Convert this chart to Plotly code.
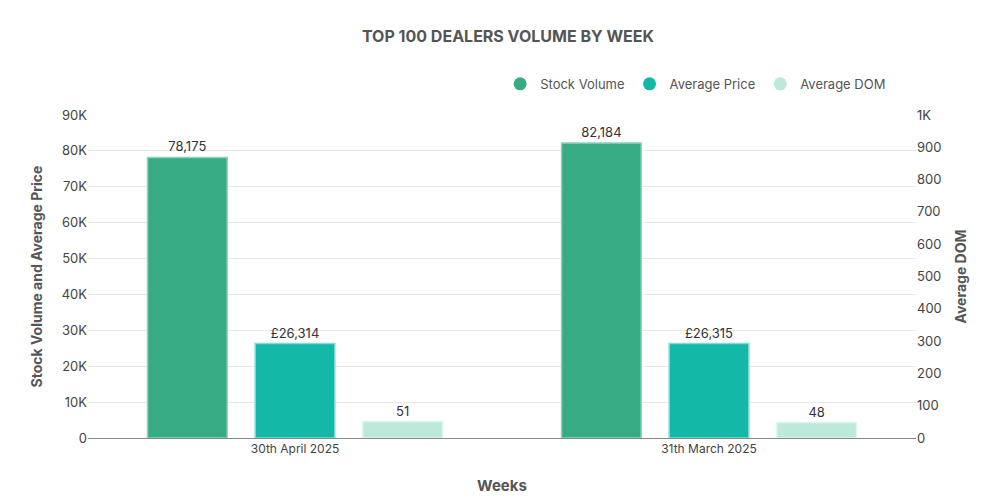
import plotly.graph_objects as go

weeks = ["30th April 2025", "31th March 2025"]
stock_volume = [78175, 82184]
average_price = [26314, 26315]
average_dom = [51, 48]
left_ticks = [0, 10000, 20000, 30000, 40000, 50000, 60000, 70000, 80000, 90000]
left_labels = ["0", "10K", "20K", "30K", "40K", "50K", "60K", "70K", "80K", "90K"]
right_ticks = [0, 100, 200, 300, 400, 500, 600, 700, 800, 900, 1000]
right_labels = ["0", "100", "200", "300", "400", "500", "600", "700", "800", "900", "1K"]

c_stock, c_price, c_dom = "#36ab84", "#14b8a6", "#bde8dc"
font = "Inter, Roboto, sans-serif"

fig = go.Figure()
fig.add_bar(x=weeks, y=stock_volume, name="Stock Volume", marker=dict(color=c_stock, line=dict(color="#8fd3bb", width=1.5)),
            text=[f"{v:,}" for v in stock_volume], textposition="outside", offsetgroup="1", showlegend=False, cliponaxis=False)
fig.add_bar(x=weeks, y=average_price, name="Average Price", marker=dict(color=c_price, line=dict(color="#7fdcd0", width=1.5)),
            text=[f"£{v:,}" for v in average_price], textposition="outside", offsetgroup="2", showlegend=False, cliponaxis=False)
fig.add_bar(x=weeks, y=average_dom, name="Average DOM", marker=dict(color=c_dom, line=dict(color="#e0f5ef", width=1.5)),
            text=[str(v) for v in average_dom], textposition="outside", offsetgroup="3", yaxis="y2", showlegend=False, cliponaxis=False)
for n, c in [("Stock Volume", c_stock), ("Average Price", c_price), ("Average DOM", c_dom)]:
    fig.add_scatter(x=[None], y=[None], mode="markers", name=n, marker=dict(color=c, size=13, symbol="circle"))

fig.update_layout(
    width=1000, height=500, plot_bgcolor="white", paper_bgcolor="white",
    font=dict(family=font, size=13, color="#333"),
    title=dict(text="<b>TOP 100 DEALERS VOLUME BY WEEK</b>", x=0.5, y=0.955, font=dict(size=16, color="#555")),
    margin=dict(l=80, r=92, t=107, b=70),
    barmode="group", bargap=0.22, bargroupgap=0.26,
    legend=dict(orientation="h", x=0.97, xanchor="right", y=1.05, yanchor="bottom",
                font=dict(size=13, color="#555"), itemwidth=30),
    xaxis=dict(title=dict(text="<b>Weeks</b>", font=dict(size=15, color="#555"), standoff=25), showline=True, linecolor="#888",
               tickfont=dict(size=12, color="#444")),
    yaxis=dict(title=dict(text="<b>Stock Volume and Average Price</b>", font=dict(size=14, color="#555")),
               range=[0, 90000], tickvals=left_ticks, ticktext=left_labels, gridcolor="#e8e8e8",
               tickfont=dict(size=13, color="#444")),
    yaxis2=dict(title=dict(text="<b>Average DOM</b>", font=dict(size=14, color="#555")), overlaying="y", side="right",
                range=[0, 1000], tickvals=right_ticks, ticktext=right_labels, showgrid=False,
                tickfont=dict(size=13, color="#444")),
)
fig.write_html("out.html")
